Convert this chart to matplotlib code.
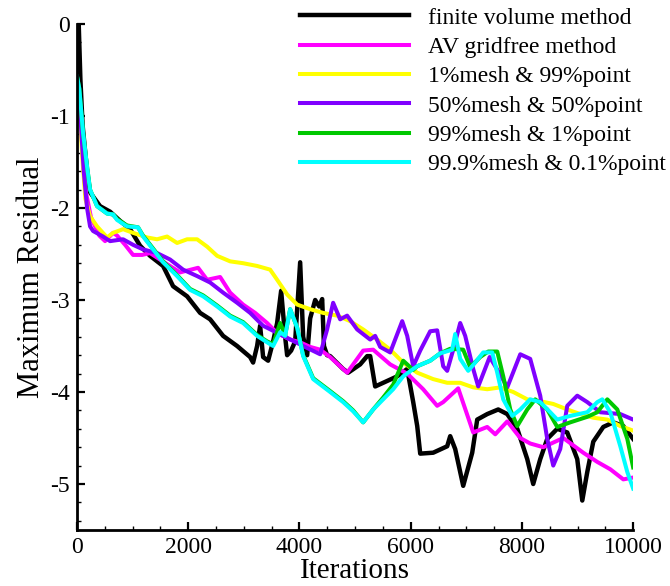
import matplotlib
matplotlib.use("Agg")
import matplotlib.pyplot as plt
from matplotlib.ticker import MultipleLocator

plt.rcParams.update({
    "font.family": "serif",
    "font.serif": ["Liberation Serif", "DejaVu Serif"],
    "axes.unicode_minus": False,
})

# ---- data ----
fv_x = [0, 30, 60, 100, 180, 234, 414, 594, 774, 954,
        1133, 1313, 1547, 1727, 1979, 2213, 2393, 2627, 2878, 3112,
        3166, 3238, 3292, 3346, 3436, 3526, 3598, 3670, 3742, 3778,
        3850, 3922, 4012, 4066, 4138, 4192, 4282, 4354, 4408, 4440,
        4497, 4551, 4785, 4875, 5091, 5217, 5271, 5361, 5505, 5757,
        5937, 6045, 6117, 6171, 6404, 6656, 6710, 6800, 6944, 7106,
        7196, 7376, 7574, 7736, 7916, 8096, 8203, 8329, 8455, 8635,
        8815, 8995, 9085, 9175, 9283, 9463, 9643, 9823, 10000]
fv_y = [-0.3, 0.0, -0.6, -1.1, -1.6, -1.83, -1.98, -2.04, -2.14, -2.23,
        -2.41, -2.52, -2.63, -2.85, -2.96, -3.14, -3.21, -3.39, -3.50, -3.62,
        -3.68, -3.50, -3.28, -3.62, -3.66, -3.45, -3.25, -2.90, -3.40, -3.60,
        -3.55, -3.45, -2.59, -3.40, -3.60, -3.20, -3.00, -3.07, -2.99, -3.50,
        -3.60, -3.61, -3.75, -3.79, -3.70, -3.61, -3.61, -3.94, -3.90, -3.83,
        -3.75, -4.11, -4.37, -4.67, -4.66, -4.59, -4.48, -4.62, -5.02, -4.66,
        -4.30, -4.24, -4.19, -4.24, -4.40, -4.73, -5.00, -4.73, -4.51, -4.40,
        -4.44, -4.73, -5.18, -4.87, -4.54, -4.38, -4.33, -4.37, -4.51]

av_x = [0, 50, 100, 150, 250, 400, 504, 650, 720, 864,
        1007, 1169, 1313, 1619, 1853, 2177, 2339, 2573, 2753, 2986,
        3202, 3418, 3598, 3832, 4012, 4192, 4372, 4551, 4857, 5145,
        5325, 5631, 5937, 6224, 6476, 6584, 6854, 7124, 7376, 7520,
        7736, 7970, 8149, 8383, 8743, 9103, 9355, 9589, 9823, 10000]
av_y = [-0.6, -0.9, -1.4, -1.8, -2.1, -2.3, -2.36, -2.27, -2.30, -2.40,
        -2.51, -2.51, -2.49, -2.61, -2.70, -2.65, -2.78, -2.75, -2.92, -3.05,
        -3.14, -3.25, -3.36, -3.43, -3.46, -3.51, -3.54, -3.62, -3.79, -3.55,
        -3.54, -3.70, -3.80, -3.97, -4.15, -4.11, -3.96, -4.44, -4.38, -4.46,
        -4.32, -4.50, -4.56, -4.60, -4.50, -4.66, -4.76, -4.84, -4.95, -4.93]

m1_x = [0, 50, 100, 150, 234, 360, 540, 648, 828, 1007,
        1259, 1439, 1619, 1799, 1979, 2159, 2339, 2519, 2753, 2986,
        3238, 3472, 3598, 3778, 3958, 4192, 4425, 4677, 4911, 5145,
        5397, 5631, 5865, 6117, 6404, 6656, 6890, 7124, 7376, 7610,
        7844, 8096, 8329, 8563, 8815, 9049, 9283, 9535, 9769, 10000]
m1_y = [-0.6, -1.0, -1.5, -1.9, -2.09, -2.20, -2.32, -2.27, -2.23, -2.27,
        -2.32, -2.34, -2.31, -2.38, -2.34, -2.34, -2.42, -2.52, -2.58, -2.60,
        -2.63, -2.67, -2.78, -2.94, -3.05, -3.10, -3.14, -3.17, -3.23, -3.32,
        -3.43, -3.54, -3.68, -3.79, -3.86, -3.90, -3.90, -3.95, -3.97, -3.95,
        -4.00, -4.08, -4.10, -4.13, -4.19, -4.24, -4.28, -4.30, -4.37, -4.42]

m50_x = [0, 60, 120, 180, 234, 288, 468, 594, 828, 1007,
         1187, 1439, 1673, 1907, 2159, 2393, 2627, 2878, 3112, 3346,
         3706, 4066, 4372, 4497, 4605, 4731, 4857, 5037, 5271, 5361,
         5451, 5631, 5847, 5937, 6045, 6171, 6350, 6476, 6584, 6656,
         6760, 6890, 6980, 7124, 7214, 7420, 7600, 7736, 7970, 8149,
         8329, 8455, 8563, 8689, 8815, 8995, 9175, 9409, 9769, 10000]
m50_y = [-0.6, -1.0, -1.6, -2.0, -2.2, -2.25, -2.31, -2.36, -2.34, -2.40,
         -2.45, -2.49, -2.56, -2.67, -2.74, -2.81, -2.92, -3.03, -3.14, -3.28,
         -3.39, -3.50, -3.59, -3.32, -3.03, -3.21, -3.17, -3.32, -3.43, -3.39,
         -3.51, -3.57, -3.23, -3.39, -3.72, -3.55, -3.34, -3.33, -3.72, -3.77,
         -3.55, -3.25, -3.39, -3.75, -3.94, -3.62, -3.80, -3.95, -3.59, -3.64,
         -4.04, -4.51, -4.80, -4.62, -4.15, -4.04, -4.11, -4.22, -4.24, -4.30]

m99_x = [0, 40, 108, 180, 234, 360, 540, 648, 720, 900,
         1097, 1187, 1367, 1547, 1799, 2033, 2267, 2519, 2753, 2986,
         3238, 3418, 3526, 3652, 3742, 3832, 3958, 4066, 4246, 4551,
         4785, 4965, 5145, 5325, 5505, 5685, 5865, 6045, 6117, 6350,
         6530, 6710, 6944, 7070, 7250, 7394, 7556, 7664, 7790, 7916,
         8096, 8239, 8455, 8635, 8869, 9175, 9355, 9535, 9715, 9895, 10000]
m99_y = [-0.57, -0.7, -1.18, -1.55, -1.80, -1.98, -2.06, -2.07, -2.12, -2.19,
         -2.21, -2.30, -2.44, -2.58, -2.73, -2.88, -2.95, -3.06, -3.17, -3.24,
         -3.38, -3.45, -3.48, -3.25, -3.38, -3.10, -3.30, -3.60, -3.85, -3.99,
         -4.10, -4.20, -4.33, -4.19, -4.06, -3.92, -3.66, -3.76, -3.72, -3.66,
         -3.58, -3.53, -3.54, -3.73, -3.62, -3.56, -3.56, -3.83, -4.19, -4.37,
         -4.19, -4.08, -4.19, -4.38, -4.33, -4.27, -4.22, -4.08, -4.19, -4.51, -4.82]

m999_x = [0, 40, 108, 180, 234, 360, 540, 648, 720, 900,
          1097, 1187, 1367, 1547, 1799, 2033, 2267, 2519, 2753, 2986,
          3238, 3418, 3526, 3652, 3742, 3832, 3958, 4066, 4246, 4551,
          4785, 4965, 5145, 5325, 5505, 5685, 5865, 6045, 6117, 6350,
          6530, 6746, 6800, 6890, 7034, 7160, 7304, 7466, 7556, 7664,
          7826, 7970, 8149, 8329, 8509, 8635, 8869, 9175, 9355, 9445,
          9589, 9769, 9895, 10000]
m999_y = [-0.57, -0.7, -1.18, -1.55, -1.80, -1.98, -2.06, -2.07, -2.13, -2.20,
          -2.21, -2.31, -2.45, -2.59, -2.74, -2.89, -2.96, -3.07, -3.18, -3.25,
          -3.39, -3.46, -3.50, -3.35, -3.39, -3.10, -3.30, -3.61, -3.86, -4.00,
          -4.11, -4.21, -4.33, -4.19, -4.08, -3.97, -3.83, -3.75, -3.72, -3.66,
          -3.58, -3.54, -3.37, -3.64, -3.77, -3.68, -3.57, -3.57, -3.79, -4.08,
          -4.26, -4.19, -4.08, -4.11, -4.22, -4.30, -4.26, -4.22, -4.11, -4.08,
          -4.22, -4.59, -4.87, -5.05]

labels = ["finite volume method", "AV gridfree method", "1%mesh & 99%point",
          "50%mesh & 50%point", "99%mesh & 1%point", "99.9%mesh & 0.1%point"]
colors = ["#000000", "#ff00ff", "#ffff00", "#8000ff", "#00c800", "#00ffff"]
series = [(fv_x, fv_y), (av_x, av_y), (m1_x, m1_y),
          (m50_x, m50_y), (m99_x, m99_y), (m999_x, m999_y)]

fig = plt.figure(figsize=(6.7, 5.86), dpi=100)
ax = fig.add_axes([0.115, 0.0956, 0.83, 0.8634])

for (xs, ys), c, lab in zip(series, colors, labels):
    lw = 3.2 if c == "#000000" else 2.9
    ax.plot(xs, ys, color=c, lw=lw, label=lab, solid_joinstyle="round")

ax.set_xlim(0, 10000)
ax.set_ylim(-5.5, 0)
ax.xaxis.set_major_locator(MultipleLocator(2000))
ax.xaxis.set_minor_locator(MultipleLocator(500))
ax.yaxis.set_major_locator(MultipleLocator(1))
ax.yaxis.set_minor_locator(MultipleLocator(0.2))

for s in ["top", "right"]:
    ax.spines[s].set_visible(False)
for s in ["left", "bottom"]:
    ax.spines[s].set_linewidth(2.0)

ax.tick_params(which="major", direction="in", length=6, width=1.6, labelsize=17, pad=5)
ax.tick_params(which="minor", direction="in", length=3, width=1.0)
ax.tick_params(axis="x", pad=5)

ax.set_xlabel("Iterations", fontsize=21, labelpad=0)
ax.set_ylabel("Maximum Residual", fontsize=22, labelpad=3)

ax.legend(loc="upper left", bbox_to_anchor=(0.448, 0.988), bbox_transform=fig.transFigure,
          frameon=False, fontsize=17, handlelength=4.6, handletextpad=0.8,
          labelspacing=0.33, borderpad=0, borderaxespad=0)

fig.savefig("out.png", dpi=100)
